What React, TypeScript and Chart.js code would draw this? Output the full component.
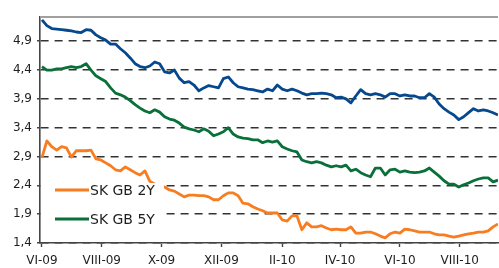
import React, { useEffect, useRef } from "react";
import { Chart, registerables } from "chart.js";

Chart.register(...registerables);

// Sample days (days since 1 June 2009, every 5 days)
const DAYS = [
  0, 5, 10, 15, 20, 25, 30, 35, 40, 45, 50, 55, 60, 65, 70, 75, 80, 85, 90, 95,
  100, 105, 110, 115, 120, 125, 130, 135, 140, 145, 150, 155, 160, 165, 170, 175, 180, 185, 190, 195,
  200, 205, 210, 215, 220, 225, 230, 235, 240, 245, 250, 255, 260, 265, 270, 275, 280, 285, 290, 295,
  300, 305, 310, 315, 320, 325, 330, 335, 340, 345, 350, 355, 360, 365, 370, 375, 380, 385, 390, 395,
  400, 405, 410, 415, 420, 425, 430, 435, 440, 445, 450, 455, 460, 465,
];

const SK_GB_10Y = [
  5.27, 5.17, 5.12, 5.11, 5.10, 5.09, 5.08, 5.06, 5.05, 5.10,
  5.09, 5.01, 4.96, 4.92, 4.85, 4.85, 4.77, 4.70, 4.61, 4.51,
  4.46, 4.44, 4.47, 4.54, 4.51, 4.37, 4.35, 4.40, 4.26, 4.18,
  4.20, 4.14, 4.04, 4.09, 4.13, 4.11, 4.09, 4.25, 4.28, 4.18,
  4.11, 4.09, 4.07, 4.06, 4.04, 4.02, 4.07, 4.04, 4.14, 4.07,
  4.04, 4.07, 4.04, 4.00, 3.97, 3.99, 3.99, 4.00, 3.99, 3.97,
  3.92, 3.93, 3.90, 3.83, 3.95, 4.06, 3.99, 3.97, 3.99, 3.97,
  3.93, 3.99, 3.99, 3.95, 3.97, 3.95, 3.95, 3.92, 3.92, 3.99,
  3.93, 3.81, 3.73, 3.67, 3.62, 3.54, 3.59, 3.66, 3.73, 3.69,
  3.71, 3.69, 3.66, 3.62,
];

const SK_GB_5Y = [
  4.46, 4.40, 4.40, 4.42, 4.42, 4.44, 4.46, 4.44, 4.46, 4.51,
  4.40, 4.30, 4.25, 4.20, 4.09, 4.00, 3.97, 3.93, 3.87, 3.80,
  3.74, 3.69, 3.66, 3.71, 3.67, 3.59, 3.55, 3.53, 3.48, 3.41,
  3.38, 3.36, 3.33, 3.38, 3.34, 3.26, 3.29, 3.33, 3.40, 3.29,
  3.24, 3.22, 3.21, 3.19, 3.19, 3.14, 3.17, 3.15, 3.17, 3.07,
  3.03, 3.00, 2.98, 2.84, 2.81, 2.79, 2.81, 2.79, 2.75, 2.72,
  2.74, 2.72, 2.75, 2.65, 2.68, 2.62, 2.58, 2.55, 2.70, 2.70,
  2.58, 2.67, 2.68, 2.63, 2.65, 2.63, 2.62, 2.63, 2.65, 2.70,
  2.63, 2.56, 2.48, 2.42, 2.42, 2.37, 2.41, 2.44, 2.48, 2.51,
  2.53, 2.53, 2.46, 2.49,
];

const SK_GB_2Y = [
  2.88, 3.17, 3.07, 3.01, 3.07, 3.05, 2.89, 3.00, 3.00, 3.00,
  3.01, 2.86, 2.84, 2.79, 2.74, 2.67, 2.65, 2.72, 2.67, 2.62,
  2.58, 2.65, 2.47, 2.42, 2.40, 2.37, 2.32, 2.30, 2.25, 2.20,
  2.23, 2.23, 2.22, 2.22, 2.20, 2.15, 2.15, 2.22, 2.27, 2.27,
  2.22, 2.09, 2.08, 2.03, 1.99, 1.96, 1.92, 1.92, 1.92, 1.80,
  1.78, 1.87, 1.87, 1.63, 1.75, 1.68, 1.68, 1.70, 1.66, 1.63,
  1.64, 1.63, 1.63, 1.68, 1.57, 1.57, 1.59, 1.59, 1.56, 1.52,
  1.49, 1.56, 1.59, 1.57, 1.64, 1.63, 1.61, 1.59, 1.59, 1.59,
  1.56, 1.54, 1.54, 1.52, 1.50, 1.52, 1.54, 1.56, 1.57, 1.59,
  1.59, 1.61, 1.68, 1.73,
];

const MONTH_TICKS = [0, 61, 122, 183, 245, 304, 365, 426];
const MONTH_LABELS = ["VI-09", "VIII-09", "X-09", "XII-09", "II-10", "IV-10", "VI-10", "VIII-10"];
const Y_TICKS = [1.4, 1.9, 2.4, 2.9, 3.4, 3.9, 4.4, 4.9];
const Y_MIN = 1.4;
const Y_MAX = 5.32;

const BLUE = "rgb(6,72,142)";
const GREEN = "rgb(8,112,56)";
const ORANGE = "rgb(247,125,32)";
const FONT = "'DejaVu Sans', sans-serif";
const TEXT = "#1e1e1e";

const toPoints = (vals: number[]) => vals.map((v, i) => ({ x: DAYS[i], y: v }));

const frameAndLegend = {
  id: "frameAndLegend",
  afterDraw(chart: any) {
    const ctx: CanvasRenderingContext2D = chart.ctx;
    const ca = chart.chartArea;
    ctx.save();
    // top frame line
    ctx.fillStyle = "#a0a0a0";
    ctx.fillRect(ca.left, ca.top - 1, ca.right - ca.left, 2);

    // legend box (white, inside plot)
    const bx = ca.left + 1;
    const by = ca.top + 166;
    ctx.fillStyle = "#ffffff";
    ctx.fillRect(bx, by, 123, 55);
    const items = [
      { label: "SK GB 2Y", color: ORANGE, dy: 7 },
      { label: "SK GB 5Y", color: GREEN, dy: 36 },
    ];
    ctx.font = "14px " + FONT;
    ctx.textBaseline = "middle";
    ctx.textAlign = "left";
    for (const it of items) {
      const yy = by + it.dy;
      ctx.fillStyle = it.color;
      ctx.fillRect(bx + 14, yy - 1.5, 34, 3);
      ctx.fillStyle = TEXT;
      ctx.fillText(it.label, bx + 49, yy + 1);
    }
    ctx.restore();
  },
};

export default function App() {
  const ref = useRef<HTMLCanvasElement | null>(null);

  useEffect(() => {
    if (!ref.current) return;
    const chart = new Chart(ref.current, {
      type: "line",
      data: {
        datasets: [
          { label: "SK GB 10Y", data: toPoints(SK_GB_10Y), borderColor: BLUE, backgroundColor: BLUE },
          { label: "SK GB 5Y", data: toPoints(SK_GB_5Y), borderColor: GREEN, backgroundColor: GREEN },
          { label: "SK GB 2Y", data: toPoints(SK_GB_2Y), borderColor: ORANGE, backgroundColor: ORANGE },
        ].map((d) => ({
          ...d,
          borderWidth: 2.8,
          pointRadius: 0,
          tension: 0,
          borderJoinStyle: "round" as const,
          fill: false,
        })),
      },
      options: {
        responsive: false,
        animation: false,
        layout: { padding: { top: 17, right: 1, left: 0, bottom: 0 } },
        plugins: {
          legend: { display: false },
          tooltip: { enabled: false },
        },
        scales: {
          x: {
            type: "linear",
            min: -2,
            max: 465,
            afterBuildTicks: (s: any) => {
              s.ticks = MONTH_TICKS.map((v) => ({ value: v }));
            },
            afterFit: (s: any) => {
              s.height = 25;
            },
            ticks: {
              autoSkip: false,
              maxRotation: 0,
              padding: 7,
              color: TEXT,
              font: { family: FONT, size: 12 },
              callback: (v: any) => {
                const idx = MONTH_TICKS.indexOf(Number(v));
                return idx >= 0 ? MONTH_LABELS[idx] : "";
              },
            },
            grid: {
              display: true,
              drawOnChartArea: false,
              drawTicks: true,
              tickLength: 4,
              tickColor: "#444",
              tickWidth: 1.4,
            },
            border: { display: true, color: "#444", width: 1.6 },
          },
          y: {
            type: "linear",
            min: Y_MIN,
            max: Y_MAX,
            afterBuildTicks: (s: any) => {
              s.ticks = Y_TICKS.map((v) => ({ value: v }));
            },
            afterFit: (s: any) => {
              s.width = 40;
            },
            ticks: {
              padding: 5,
              color: TEXT,
              font: { family: FONT, size: 12 },
              callback: (v: any) => Number(v).toFixed(1).replace(".", ","),
            },
            grid: {
              display: true,
              drawOnChartArea: true,
              drawTicks: true,
              tickLength: 3,
              color: "#333333",
              lineWidth: 1.6,
              tickColor: "#444444",
              tickWidth: 1.6,
            },
            border: { display: true, color: "#444", width: 1.6, dash: [8, 6] },
          },
        },
      },
      plugins: [frameAndLegend],
    });
    return () => chart.destroy();
  }, []);

  return (
    <div style={{ position: "absolute", left: 0, top: 0, width: 499, height: 268, background: "#fff" }}>
      <canvas ref={ref} width={499} height={268} style={{ display: "block", width: 499, height: 268 }} />
    </div>
  );
}
